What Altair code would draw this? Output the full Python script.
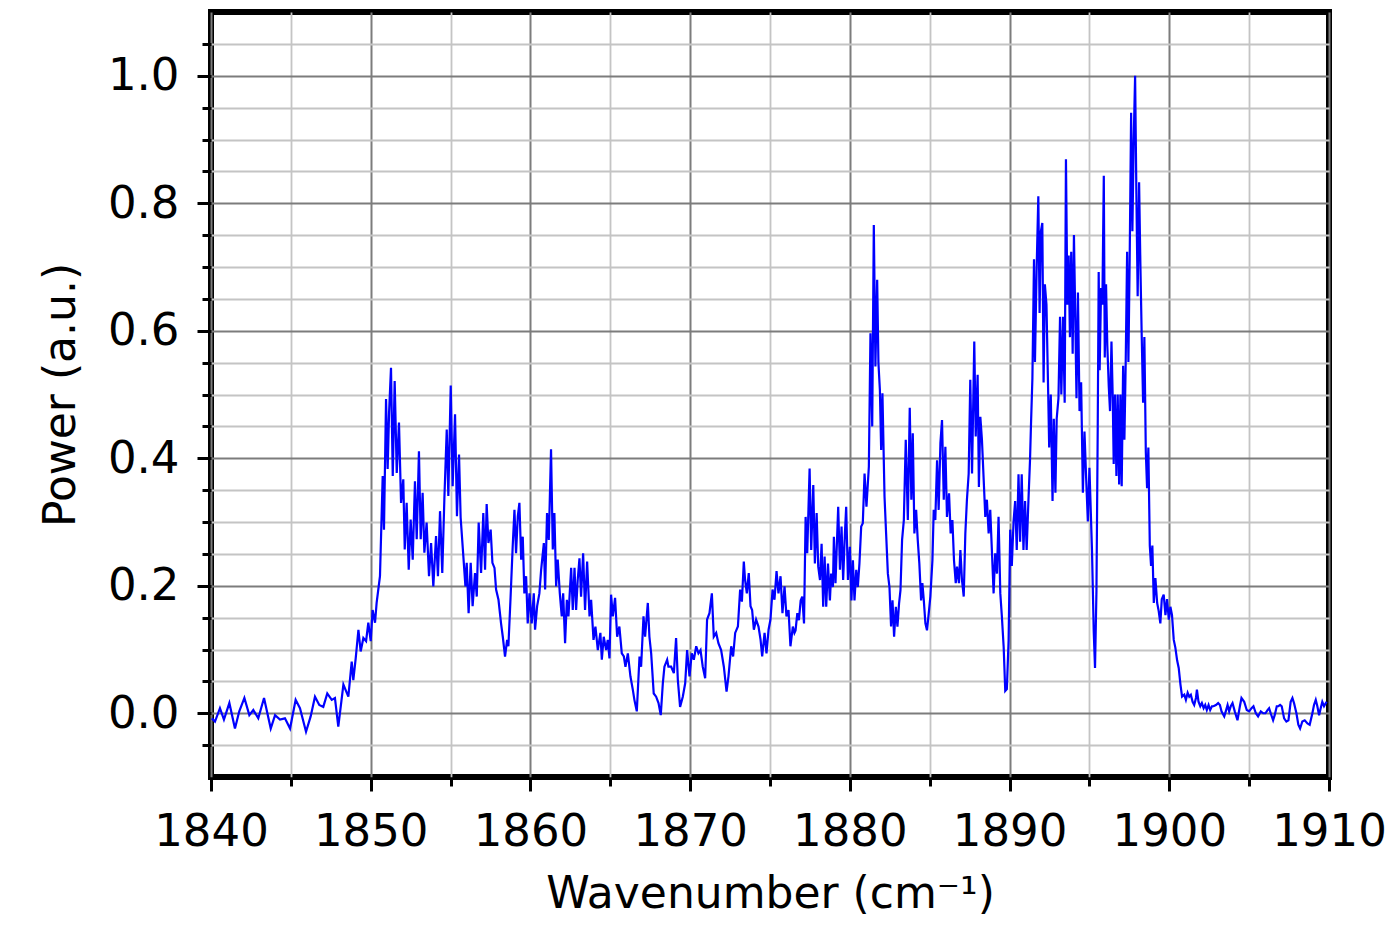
import altair as alt
import pandas as pd

# ---- data (wavenumber in cm^-1, power in a.u.) ----
wn_base_left = [1840.05, 1840.25, 1840.56, 1840.81, 1841.15, 1841.50, 1841.77, 1842.09, 1842.40, 1842.65,
                1842.96, 1843.32, 1843.74, 1844.01, 1844.32, 1844.63, 1844.95, 1845.30, 1845.57, 1845.95,
                1846.24, 1846.51, 1846.78, 1847.03, 1847.28, 1847.56, 1847.76, 1847.97, 1848.29, 1848.60]
pw_base_left = [-0.008, -0.013, 0.008, -0.010, 0.016, -0.024, 0.003, 0.024, -0.003, 0.005,
                -0.008, 0.024, -0.024, -0.003, -0.010, -0.008, -0.024, 0.021, 0.008, -0.029,
                -0.005, 0.026, 0.013, 0.010, 0.031, 0.021, 0.024, -0.021, 0.045, 0.026]

wn_band_1850 = [1848.81, 1848.91, 1849.06, 1849.23, 1849.37, 1849.54, 1849.71, 1849.85, 1850.00, 1850.12,
                1850.27, 1850.37, 1850.58, 1850.75, 1850.83, 1850.96, 1851.06, 1851.15, 1851.27, 1851.38,
                1851.50, 1851.63, 1851.77, 1851.90, 1852.04, 1852.13, 1852.25, 1852.38, 1852.50, 1852.63,
                1852.77, 1852.88, 1853.02, 1853.13, 1853.25, 1853.36, 1853.50, 1853.65, 1853.78, 1853.92,
                1854.09, 1854.21, 1854.34, 1854.48, 1854.61, 1854.76, 1854.86, 1855.01, 1855.13, 1855.28,
                1855.40, 1855.53, 1855.63, 1855.80, 1855.93, 1856.01, 1856.13, 1856.26, 1856.38, 1856.53,
                1856.64, 1856.76, 1856.91, 1857.05, 1857.16, 1857.26, 1857.37, 1857.51, 1857.62]
pw_band_1850 = [0.081, 0.052, 0.086, 0.131, 0.097, 0.118, 0.113, 0.142, 0.113, 0.162,
                0.142, 0.173, 0.215, 0.372, 0.288, 0.493, 0.383, 0.472, 0.542, 0.372,
                0.521, 0.377, 0.456, 0.330, 0.367, 0.257, 0.330, 0.225, 0.304, 0.241,
                0.364, 0.273, 0.411, 0.273, 0.346, 0.252, 0.299, 0.215, 0.267, 0.199,
                0.278, 0.215, 0.317, 0.220, 0.335, 0.445, 0.341, 0.514, 0.356, 0.469,
                0.309, 0.406, 0.307, 0.246, 0.199, 0.236, 0.157, 0.236, 0.168, 0.220,
                0.183, 0.299, 0.220, 0.314, 0.225, 0.328, 0.267, 0.288, 0.236]

wn_band_1860 = [1857.75, 1857.85, 1858.00, 1858.16, 1858.27, 1858.41, 1858.54, 1858.62, 1858.75, 1858.89,
                1859.00, 1859.10, 1859.21, 1859.31, 1859.42, 1859.52, 1859.62, 1859.73, 1859.83, 1859.94,
                1860.08, 1860.21, 1860.29, 1860.42, 1860.56, 1860.67, 1860.84, 1860.92, 1861.04, 1861.15,
                1861.29, 1861.40, 1861.50, 1861.61, 1861.71, 1861.84, 1861.96, 1862.05, 1862.17, 1862.28,
                1862.38, 1862.55, 1862.65, 1862.76, 1862.86, 1862.96, 1863.07, 1863.17, 1863.30, 1863.42,
                1863.55, 1863.70, 1863.80, 1863.95, 1864.07, 1864.22, 1864.38, 1864.47, 1864.59, 1864.74,
                1864.84, 1864.95]
pw_band_1860 = [0.228, 0.194, 0.178, 0.141, 0.120, 0.089, 0.115, 0.105, 0.178, 0.262,
                0.319, 0.251, 0.309, 0.330, 0.241, 0.277, 0.188, 0.215, 0.141, 0.188,
                0.141, 0.188, 0.131, 0.168, 0.188, 0.225, 0.267, 0.194, 0.314, 0.272,
                0.414, 0.257, 0.314, 0.199, 0.241, 0.188, 0.152, 0.188, 0.110, 0.178,
                0.152, 0.228, 0.162, 0.228, 0.162, 0.209, 0.243, 0.183, 0.251, 0.162,
                0.238, 0.152, 0.178, 0.115, 0.136, 0.099, 0.126, 0.084, 0.120, 0.099,
                0.115, 0.086]

wn_valley_1870 = [1865.05, 1865.16, 1865.30, 1865.43, 1865.57, 1865.72, 1865.85, 1865.95, 1866.10, 1866.26,
                  1866.41, 1866.51, 1866.66, 1866.83, 1866.93, 1867.08, 1867.18, 1867.35, 1867.45, 1867.56,
                  1867.72, 1867.87, 1868.02, 1868.16, 1868.29, 1868.39, 1868.56, 1868.64, 1868.81, 1868.98,
                  1869.12, 1869.23, 1869.37, 1869.54, 1869.69, 1869.81, 1869.96, 1870.10, 1870.23, 1870.38,
                  1870.52, 1870.65, 1870.79, 1870.94, 1871.06, 1871.21, 1871.36, 1871.48, 1871.63, 1871.77,
                  1871.94, 1872.11, 1872.28, 1872.40, 1872.57, 1872.69, 1872.82, 1872.99]
pw_valley_1870 = [0.186, 0.152, 0.181, 0.120, 0.136, 0.094, 0.089, 0.073, 0.094, 0.058,
                  0.037, 0.021, 0.003, 0.089, 0.073, 0.152, 0.120, 0.173, 0.120, 0.094,
                  0.031, 0.026, 0.016, -0.003, 0.047, 0.073, 0.084, 0.073, 0.073, 0.063,
                  0.118, 0.052, 0.010, 0.026, 0.047, 0.099, 0.058, 0.094, 0.084, 0.105,
                  0.094, 0.099, 0.073, 0.055, 0.147, 0.157, 0.188, 0.120, 0.126, 0.110,
                  0.099, 0.073, 0.034, 0.058, 0.105, 0.089, 0.126, 0.136]

wn_band_1875 = [1873.13, 1873.24, 1873.36, 1873.44, 1873.55, 1873.67, 1873.78, 1873.88, 1873.99, 1874.13,
                1874.28, 1874.41, 1874.51, 1874.66, 1874.78, 1874.91, 1875.03, 1875.16, 1875.28, 1875.41,
                1875.53, 1875.66, 1875.78, 1875.91, 1876.03, 1876.16, 1876.28, 1876.43, 1876.53, 1876.60,
                1876.71, 1876.81, 1876.92, 1877.02, 1877.13, 1877.23, 1877.33, 1877.48, 1877.58, 1877.71,
                1877.81, 1877.92, 1878.02, 1878.13, 1878.23, 1878.33, 1878.42, 1878.52, 1878.63, 1878.75,
                1878.83, 1878.94, 1879.00, 1879.10, 1879.27, 1879.38, 1879.48, 1879.58, 1879.69, 1879.77,
                1879.88, 1880.00, 1880.10, 1880.19, 1880.29, 1880.40, 1880.50, 1880.60]
pw_band_1875 = [0.194, 0.175, 0.238, 0.209, 0.188, 0.220, 0.168, 0.162, 0.131, 0.147,
                0.136, 0.115, 0.089, 0.126, 0.094, 0.131, 0.147, 0.194, 0.178, 0.223,
                0.188, 0.215, 0.157, 0.199, 0.152, 0.162, 0.105, 0.136, 0.126, 0.130,
                0.157, 0.146, 0.177, 0.183, 0.141, 0.308, 0.251, 0.384, 0.256, 0.358,
                0.235, 0.314, 0.230, 0.209, 0.266, 0.167, 0.246, 0.167, 0.235, 0.177,
                0.219, 0.198, 0.277, 0.204, 0.324, 0.225, 0.293, 0.209, 0.282, 0.324,
                0.209, 0.261, 0.177, 0.240, 0.177, 0.225, 0.198, 0.235]

wn_band_1882 = [1880.71, 1880.81, 1880.92, 1881.04, 1881.19, 1881.29, 1881.40, 1881.50, 1881.60, 1881.71,
                1881.79, 1881.88, 1881.96, 1882.04, 1882.17, 1882.27, 1882.38, 1882.48, 1882.58, 1882.67,
                1882.77, 1882.88, 1882.98, 1883.08, 1883.17, 1883.27, 1883.38, 1883.50, 1883.63, 1883.75,
                1883.85, 1883.94, 1884.04, 1884.15, 1884.25, 1884.35, 1884.46, 1884.54, 1884.63, 1884.73,
                1884.83, 1884.96]
pw_band_1882 = [0.293, 0.298, 0.376, 0.324, 0.387, 0.596, 0.450, 0.766, 0.544, 0.680,
                0.549, 0.507, 0.413, 0.502, 0.340, 0.282, 0.219, 0.198, 0.136, 0.177,
                0.120, 0.167, 0.136, 0.172, 0.193, 0.272, 0.303, 0.429, 0.303, 0.479,
                0.335, 0.439, 0.282, 0.319, 0.272, 0.235, 0.177, 0.204, 0.177, 0.141,
                0.130, 0.162]

wn_band_1887 = [1885.04, 1885.17, 1885.25, 1885.35, 1885.46, 1885.56, 1885.67, 1885.77, 1885.88, 1885.98,
                1886.08, 1886.21, 1886.31, 1886.42, 1886.52, 1886.63, 1886.71, 1886.83, 1886.92, 1887.02,
                1887.13, 1887.23, 1887.33, 1887.44, 1887.54, 1887.65, 1887.79, 1887.88, 1888.00, 1888.08,
                1888.17, 1888.27, 1888.38, 1888.48, 1888.58, 1888.69, 1888.79, 1888.90, 1889.00, 1889.10,
                1889.21, 1889.31, 1889.42, 1889.52, 1889.63, 1889.73, 1889.83, 1889.94]
pw_band_1887 = [0.183, 0.240, 0.319, 0.303, 0.397, 0.319, 0.424, 0.460, 0.335, 0.418,
                0.308, 0.345, 0.282, 0.303, 0.240, 0.204, 0.230, 0.204, 0.256, 0.209,
                0.183, 0.282, 0.335, 0.376, 0.523, 0.376, 0.583, 0.434, 0.531, 0.355,
                0.465, 0.429, 0.366, 0.308, 0.335, 0.282, 0.319, 0.251, 0.188, 0.251,
                0.219, 0.308, 0.188, 0.151, 0.104, 0.035, 0.038, 0.115]

wn_band_1893 = [1890.04, 1890.14, 1890.25, 1890.35, 1890.45, 1890.56, 1890.66, 1890.76, 1890.87, 1890.97,
                1891.07, 1891.18, 1891.28, 1891.34, 1891.43, 1891.53, 1891.59, 1891.69, 1891.80, 1891.88,
                1891.96, 1892.05, 1892.13, 1892.21, 1892.31, 1892.42, 1892.48, 1892.58, 1892.69, 1892.77,
                1892.87, 1892.95, 1893.06, 1893.16, 1893.24, 1893.35, 1893.45, 1893.53, 1893.62, 1893.70,
                1893.78, 1893.86, 1893.95, 1894.03, 1894.11, 1894.19, 1894.28, 1894.38, 1894.48, 1894.59,
                1894.69, 1894.79, 1894.90, 1895.00]
pw_band_1893 = [0.288, 0.231, 0.301, 0.333, 0.256, 0.375, 0.269, 0.375, 0.256, 0.333,
                0.256, 0.333, 0.397, 0.452, 0.526, 0.712, 0.551, 0.692, 0.811, 0.628,
                0.756, 0.769, 0.519, 0.673, 0.641, 0.500, 0.417, 0.500, 0.333, 0.462,
                0.346, 0.462, 0.494, 0.622, 0.500, 0.622, 0.487, 0.869, 0.641, 0.718,
                0.590, 0.724, 0.564, 0.750, 0.628, 0.494, 0.660, 0.474, 0.519, 0.346,
                0.442, 0.372, 0.301, 0.385]

wn_band_1898 = [1895.16, 1895.27, 1895.35, 1895.44, 1895.52, 1895.58, 1895.64, 1895.73, 1895.81, 1895.90,
                1895.96, 1896.04, 1896.12, 1896.21, 1896.29, 1896.38, 1896.46, 1896.52, 1896.60, 1896.69,
                1896.77, 1896.86, 1896.94, 1897.02, 1897.11, 1897.19, 1897.27, 1897.36, 1897.44, 1897.52,
                1897.61, 1897.69, 1897.77, 1897.86, 1897.94, 1898.02, 1898.11, 1898.19, 1898.27, 1898.36,
                1898.44, 1898.53, 1898.61, 1898.69, 1898.78, 1898.86, 1898.94, 1899.03, 1899.13, 1899.24,
                1899.34, 1899.44, 1899.53, 1899.65, 1899.76, 1899.86, 1899.97, 1900.07, 1900.17, 1900.28,
                1900.38, 1900.49, 1900.59, 1900.70, 1900.80]
pw_band_1898 = [0.256, 0.128, 0.071, 0.192, 0.449, 0.692, 0.538, 0.667, 0.641, 0.843,
                0.558, 0.673, 0.577, 0.513, 0.474, 0.583, 0.494, 0.391, 0.500, 0.372,
                0.500, 0.359, 0.500, 0.356, 0.545, 0.429, 0.548, 0.724, 0.551, 0.712,
                0.942, 0.756, 0.897, 1.000, 0.814, 0.654, 0.833, 0.705, 0.596, 0.487,
                0.590, 0.410, 0.353, 0.417, 0.263, 0.231, 0.263, 0.173, 0.212, 0.173,
                0.160, 0.141, 0.179, 0.186, 0.154, 0.179, 0.147, 0.167, 0.154, 0.115,
                0.103, 0.083, 0.071, 0.045, 0.026]

wn_base_right = [1900.94, 1901.04, 1901.15, 1901.25, 1901.35, 1901.46, 1901.56, 1901.67, 1901.73, 1901.83,
                 1901.94, 1902.04, 1902.15, 1902.25, 1902.35, 1902.46, 1902.56, 1902.67, 1902.77, 1902.92,
                 1903.06, 1903.17, 1903.27, 1903.44, 1903.56, 1903.65, 1903.75, 1903.85, 1903.96, 1904.10,
                 1904.27, 1904.42, 1904.52, 1904.69, 1904.85, 1905.00, 1905.15, 1905.27, 1905.42, 1905.56,
                 1905.73, 1905.88, 1906.02, 1906.15, 1906.25, 1906.35, 1906.50, 1906.60, 1906.73, 1906.83,
                 1906.94, 1907.04, 1907.19, 1907.33, 1907.46, 1907.60, 1907.71, 1907.81, 1907.96, 1908.08,
                 1908.19, 1908.33, 1908.48, 1908.65, 1908.79, 1908.96, 1909.06, 1909.17, 1909.27, 1909.38,
                 1909.48, 1909.58, 1909.69, 1909.85]
pw_base_right = [0.029, 0.021, 0.032, 0.026, 0.029, 0.018, 0.013, 0.024, 0.037, 0.018,
                 0.011, 0.016, 0.008, 0.013, 0.005, 0.013, 0.005, 0.011, 0.011, 0.013,
                 0.016, 0.013, 0.003, -0.005, 0.005, 0.013, 0.003, 0.011, 0.016, 0.003,
                 -0.011, 0.011, 0.024, 0.018, 0.005, 0.003, 0.008, 0.011, 0.000, -0.005,
                 0.003, 0.000, 0.000, 0.005, 0.008, 0.000, -0.011, -0.003, 0.011, 0.011,
                 0.013, 0.011, -0.008, -0.013, -0.011, 0.018, 0.024, 0.016, 0.000, -0.018,
                 -0.024, -0.013, -0.011, -0.016, -0.018, 0.000, 0.013, 0.021, 0.011, -0.003,
                 0.008, 0.018, 0.011, 0.018]

# axis tick positions
x_ticks = [1840, 1845, 1850, 1855, 1860, 1865, 1870, 1875, 1880, 1885, 1890, 1895, 1900, 1905, 1910]
y_ticks = [-0.05, 0.0, 0.05, 0.1, 0.15, 0.2, 0.25, 0.3, 0.35, 0.4, 0.45, 0.5,
           0.55, 0.6, 0.65, 0.7, 0.75, 0.8, 0.85, 0.9, 0.95, 1.0, 1.05]

wn = (wn_base_left + wn_band_1850 + wn_band_1860 + wn_valley_1870 + wn_band_1875 +
      wn_band_1882 + wn_band_1887 + wn_band_1893 + wn_band_1898 + wn_base_right)
pw = (pw_base_left + pw_band_1850 + pw_band_1860 + pw_valley_1870 + pw_band_1875 +
      pw_band_1882 + pw_band_1887 + pw_band_1893 + pw_band_1898 + pw_base_right)
df = pd.DataFrame({"wavenumber": wn, "power": pw})

FONT = "DejaVu Sans"
x_major = "datum.value % 10 == 0"
y_major = "abs(datum.value * 5 - round(datum.value * 5)) < 0.001"
MAJOR_GRID = "#7c7c7c"
MINOR_GRID = "#c4c4c4"

x_axis = alt.Axis(
    values=x_ticks,
    format="d",
    labelExpr=f"{x_major} ? datum.label : ''",
    labelOverlap=False,
    labelFlush=False,
    labelFont=FONT, labelFontSize=45, labelColor="black", labelPadding=18,
    grid=True,
    gridColor={"condition": {"test": x_major, "value": MAJOR_GRID}, "value": MINOR_GRID},
    gridWidth={"condition": {"test": x_major, "value": 2}, "value": 1.8},
    ticks=True, tickColor="black", tickWidth=3,
    tickSize={"condition": {"test": x_major, "value": 14}, "value": 9},
    domain=False,
    title="Wavenumber (cm⁻¹)",
    titleFont=FONT, titleFontSize=44, titleFontWeight="normal", titleColor="black",
    titlePadding=18,
)

y_axis = alt.Axis(
    values=y_ticks,
    labelExpr=f"{y_major} ? format(datum.value, '.1f') : ''",
    labelOverlap=False,
    labelFlush=False,
    labelFont=FONT, labelFontSize=45, labelColor="black", labelPadding=18,
    grid=True,
    gridColor={"condition": {"test": y_major, "value": MAJOR_GRID}, "value": MINOR_GRID},
    gridWidth={"condition": {"test": y_major, "value": 2}, "value": 1.8},
    ticks=True, tickColor="black", tickWidth=3,
    tickSize={"condition": {"test": y_major, "value": 14}, "value": 9},
    domain=False,
    title="Power (a.u.)",
    titleFont=FONT, titleFontSize=44, titleFontWeight="normal", titleColor="black",
    titlePadding=24,
)

chart = (
    alt.Chart(df)
    .mark_line(color="#0000ff", strokeWidth=2.2)
    .encode(
        x=alt.X("wavenumber:Q", scale=alt.Scale(domain=[1840, 1910], nice=False, zero=False), axis=x_axis),
        y=alt.Y("power:Q", scale=alt.Scale(domain=[-0.1, 1.1], nice=False, zero=False), axis=y_axis),
        order="wavenumber:Q",
    )
    .properties(
        width=1118,
        height=765,
        autosize=alt.AutoSizeParams(type="none"),
        padding={"left": 203, "top": 4, "right": 62, "bottom": 143},
        background="white",
    )
    .configure_view(stroke="black", strokeWidth=6)
)

chart.save("out.html", embed_options={"renderer": "svg", "actions": False})
